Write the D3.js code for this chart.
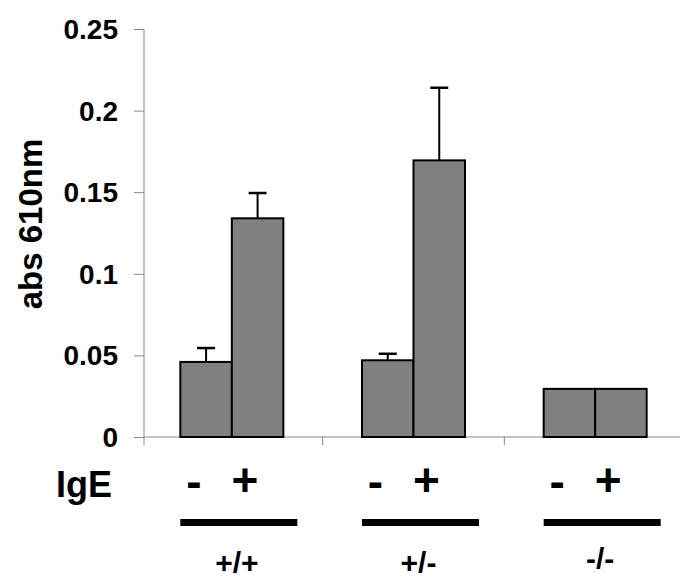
<!DOCTYPE html>
<html>
<head>
<meta charset="utf-8">
<script src="https://cdn.jsdelivr.net/npm/d3@7"></script>
<style>
  html, body { margin: 0; padding: 0; background: #fff; }
  svg { display: block; }
  text { font-family: "Liberation Sans", Arial, Helvetica, sans-serif; font-weight: bold; fill: #000; }
</style>
</head>
<body>
<svg id="chart" width="680" height="587"></svg>
<script>
// ---- data ----
const genotypes = ["+/+", "+/-", "-/-"];
const igeLevels = ["-", "+"];
const meanMinus = [0.046, 0.047, 0.0295];
const meanPlus  = [0.134, 0.1695, 0.0295];
const errMinus  = [0.0085, 0.004, null];
const errPlus   = [0.0155, 0.0445, null];
const yTicks = [0, 0.05, 0.1, 0.15, 0.2, 0.25];
const yTickLabels = ["0", "0.05", "0.1", "0.15", "0.2", "0.25"];
const yTitle = "abs 610nm";
const xTitle = "IgE";

const rows = [];
genotypes.forEach((g, i) => {
  rows.push({ g, ige: "-", v: meanMinus[i], e: errMinus[i] });
  rows.push({ g, ige: "+", v: meanPlus[i], e: errPlus[i] });
});

const svg = d3.select("#chart");
const axisX0 = 144, axisY0 = 437, axisTop = 29;

const y = d3.scaleLinear().domain([0, 0.25]).range([axisY0, axisTop]);
const x = d3.scaleBand().domain(genotypes).range([141, 686]);
const groupHalf = 51.5;
const sub = d3.scaleBand().domain(igeLevels).range([-groupHalf, groupHalf]);

// y axis
const yAxis = d3.axisLeft(y).tickValues(yTicks)
  .tickFormat((d, i) => yTickLabels[i]).tickSize(10).tickPadding(16);
const gy = svg.append("g").attr("transform", `translate(${axisX0},0)`).call(yAxis)
  .attr("font-size", 28).attr("font-family", "Liberation Sans, Arial, sans-serif");
gy.select(".domain").attr("stroke", "#888").attr("stroke-width", 1)
  .attr("d", `M0,${axisTop}V${axisY0}`);
gy.selectAll(".tick line").attr("stroke", "#888");
gy.selectAll(".tick text").attr("font-weight", "bold").attr("fill", "#000")
  .attr("dy", "0.34em");

// x axis line with ticks at band boundaries
const boundaries = [axisX0].concat(genotypes.slice(1).map(g => x(g)));
svg.append("line").attr("x1", axisX0).attr("x2", 680).attr("y1", axisY0).attr("y2", axisY0)
  .attr("stroke", "#888").attr("stroke-width", 1);
svg.selectAll(".xtick").data(boundaries).enter().append("line")
  .attr("class", "xtick")
  .attr("x1", d => d).attr("x2", d => d)
  .attr("y1", axisY0).attr("y2", axisY0 + 8)
  .attr("stroke", "#888").attr("stroke-width", 1);

// y title
svg.append("text")
  .attr("transform", `translate(42,${(axisTop + axisY0) / 2 - 9}) rotate(-90)`)
  .attr("text-anchor", "middle")
  .style("font-size", "33px")
  .text(yTitle);

// bars
const cx = d => x(d.g) + x.bandwidth() / 2 + sub(d.ige);
svg.selectAll(".bar").data(rows).enter().append("rect")
  .attr("class", "bar")
  .attr("x", d => cx(d))
  .attr("width", sub.bandwidth())
  .attr("y", d => y(d.v))
  .attr("height", d => y(0) - y(d.v))
  .attr("fill", "#808080")
  .attr("stroke", "#000")
  .attr("stroke-width", 2);

// error bars
const errRows = rows.filter(d => d.e != null);
const ecx = d => cx(d) + sub.bandwidth() / 2;
svg.selectAll(".errv").data(errRows).enter().append("line")
  .attr("x1", ecx).attr("x2", ecx)
  .attr("y1", d => y(d.v)).attr("y2", d => y(d.v + d.e))
  .attr("stroke", "#000").attr("stroke-width", 2);
svg.selectAll(".errc").data(errRows).enter().append("line")
  .attr("x1", d => ecx(d) - 9).attr("x2", d => ecx(d) + 9)
  .attr("y1", d => y(d.v + d.e)).attr("y2", d => y(d.v + d.e))
  .attr("stroke", "#000").attr("stroke-width", 2.5);

// IgE label row
svg.append("text").attr("x", 56).attr("y", 497).style("font-size", "36px").text(xTitle);
const annOffset = 7;
genotypes.forEach(g => {
  const c = x(g) + x.bandwidth() / 2 + annOffset;
  svg.append("text").attr("x", c - 45).attr("y", 497).attr("text-anchor", "middle")
    .style("font-size", "46px").text(igeLevels[0]);
  svg.append("text").attr("x", c + 6).attr("y", 496).attr("text-anchor", "middle")
    .style("font-size", "46px").text(igeLevels[1]);
  svg.append("rect").attr("x", c - 58.5).attr("y", 519).attr("width", 117).attr("height", 7)
    .attr("fill", "#000");
  svg.append("text").attr("x", c - 2).attr("y", g === "-/-" ? 569 : 573).attr("text-anchor", "middle")
    .style("font-size", "30px").text(g);
});
</script>
</body>
</html>
